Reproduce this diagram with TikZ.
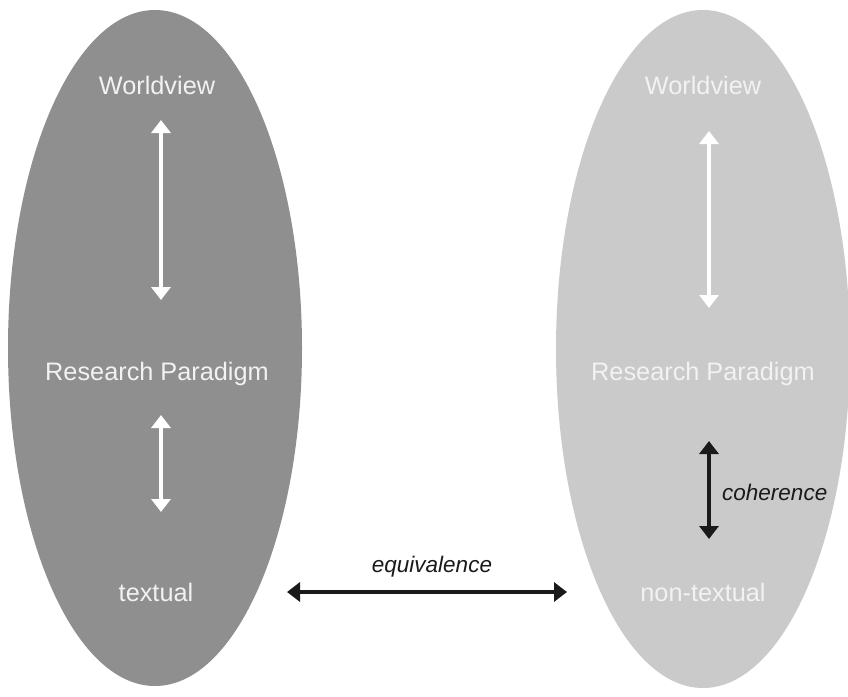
\documentclass[tikz,border=0pt]{standalone}
\usepackage{fontspec}
\setmainfont{Liberation Sans}
\usetikzlibrary{arrows.meta}
\definecolor{darkoval}{HTML}{8F8F8F}
\definecolor{lightoval}{HTML}{CACACA}
\definecolor{ovaltext}{HTML}{F2F2F2}
\definecolor{inkblack}{HTML}{1A1A1A}
\begin{document}
\begin{tikzpicture}[x=1pt,y=-1pt,
  label/.style={text=ovaltext,font=\fontsize{25.3}{30}\selectfont,inner sep=0pt},
  relname/.style={text=inkblack,font=\itshape\fontsize{22.5}{27}\selectfont,inner sep=0pt},
  tip/.style={Triangle[width=19pt,length=13pt]},
  whitelink/.style={draw=white,line width=3.6pt,{Triangle[width=19pt,length=13pt]}-{Triangle[width=19pt,length=13pt]}},
  blacklink/.style={draw=inkblack,line width=3.6pt,{Triangle[width=19pt,length=13pt]}-{Triangle[width=19pt,length=13pt]}}]
\useasboundingbox (0,0) rectangle (848,696);
\fill[white] (0,0) rectangle (848,696);
% the two ovals
\fill[darkoval] (155,348) ellipse [x radius=147, y radius=338];
\fill[lightoval] (703,349) ellipse [x radius=147, y radius=339];
% left oval labels
\node[label] (wvL) at (157,85) {Worldview};
\node[label] (rpL) at (157,374) {Research Paradigm};
\node[label] (tx) at (156,592) {textual};
% right oval labels
\node[label] (wvR) at (703,85) {Worldview};
\node[label] (rpR) at (703,374) {Research Paradigm};
\node[label] (ntx) at (703,592) {non-textual};
% arrow end points
\coordinate (aL1) at (161,120);
\coordinate (bL1) at (161,300);
\coordinate (aL2) at (161,415);
\coordinate (bL2) at (161,512);
\coordinate (aR1) at (709,131);
\coordinate (bR1) at (709,308);
\coordinate (aR2) at (709,441);
\coordinate (bR2) at (709,539);
\coordinate (eqA) at (287,592);
\coordinate (eqB) at (567,592);
% arrows
\draw[whitelink] (aL1) -- (bL1);
\draw[whitelink] (aL2) -- (bL2);
\draw[whitelink] (aR1) -- (bR1);
\draw[blacklink] (aR2) -- (bR2);
\draw[blacklink] (eqA) -- (eqB);
% relation names
\node[relname,anchor=west] (coh) at (722,492) {coherence};
\node[relname] (eqv) at (432,567) {equivalence};
\end{tikzpicture}
\end{document}
